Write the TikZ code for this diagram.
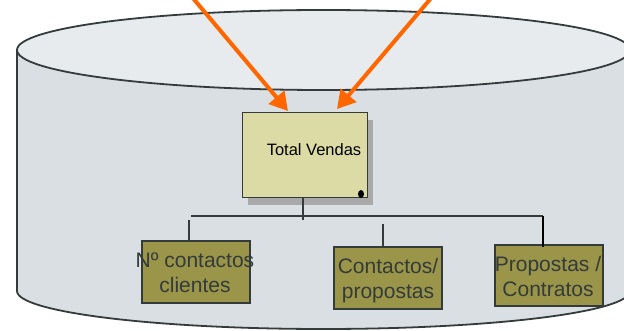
\documentclass[tikz,border=0pt]{standalone}
\usepackage{fontspec}
\setmainfont{Liberation Sans}
\usetikzlibrary{arrows.meta}
\definecolor{cylbody}{HTML}{DADFE3}
\definecolor{cyltop}{HTML}{E7EBEE}
\definecolor{edgegray}{HTML}{333B3B}
\definecolor{totalfill}{HTML}{DCDBA6}
\definecolor{shadowgray}{HTML}{A9A9A9}
\definecolor{kpifill}{HTML}{9A9548}
\definecolor{flow}{HTML}{FF6600}
\begin{document}
\begin{tikzpicture}[x=1pt,y=-1pt,
	kpi/.style={draw=edgegray,line width=2pt,fill=kpifill,minimum width=108pt,minimum height=61pt,inner sep=0pt},
	kpitext/.style={text=edgegray,font=\fontsize{21}{25.5}\selectfont,align=center,inner sep=0pt},
	tree/.style={draw=edgegray,line width=2.2pt},
	flowarrow/.style={draw=flow,line width=4pt,-{Triangle[length=18pt,width=20pt]}}]
	\useasboundingbox (0,0) rectangle (624,331);
	% cylinder
	\begin{scope}
		\clip (0,0) rectangle (624,331);
		\draw[edgegray,line width=1.8pt,fill=cylbody] (17,50)--(17,291) arc[start angle=180,end angle=360,x radius=306.5pt,y radius=38pt]--(630,50)--cycle;
		\draw[edgegray,line width=1.8pt,fill=cyltop] (323.5,50) ellipse[x radius=306.5pt,y radius=40pt];
	\end{scope}
	% top measure
	\node[fill=shadowgray,minimum width=125pt,minimum height=85pt,inner sep=0pt] (totalshadow) at (310.5,162.5) {};
	\node[draw=edgegray,line width=1pt,fill=totalfill,minimum width=125pt,minimum height=85pt,inner sep=0pt] (total) at (304.5,155.5) {};
	\node[font=\fontsize{16.5}{19}\selectfont,inner sep=0pt] (totallbl) at (314,150) {Total Vendas};
	\fill (361,194) ellipse[x radius=3pt,y radius=4pt];
	% sub measures
	\node[kpi] (kpi1) at (196,272) {};
	\node[kpi] (kpi2) at (388,278) {};
	\node[kpi] (kpi3) at (548.5,275.5) {};
	\node[kpitext] (kpi1lbl) at (195,273) {Nº contactos\\clientes};
	\node[kpitext] (kpi2lbl) at (388,280.5) {Contactos/\\propostas};
	\node[kpitext] (kpi3lbl) at (548,276.5) {Propostas /\\Contratos};
	% tree
	\coordinate (hubdown) at (303,220);
	\coordinate (busL) at (191,216);
	\coordinate (busR) at (543,216);
	\coordinate (c1top) at (189,220);
	\coordinate (c2top) at (383,224);
	\draw[tree] (total.south-|hubdown)--(hubdown);
	\draw[tree] (busL)--(busR);
	\draw[tree] (c1top)--(c1top|-kpi1.north);
	\draw[tree] (c2top)--(c2top|-kpi2.north);
	\draw[line width=2.2pt,black] (busR)--([yshift=-3pt]busR|-kpi3.north);
	% incoming flows
	\coordinate (srcA) at (192,-3);
	\coordinate (srcB) at (432,-3);
	\coordinate (tipA) at (288,111);
	\coordinate (tipB) at (337,109);
	\draw[flowarrow] (srcA)--(tipA);
	\draw[flowarrow] (srcB)--(tipB);
\end{tikzpicture}
\end{document}
